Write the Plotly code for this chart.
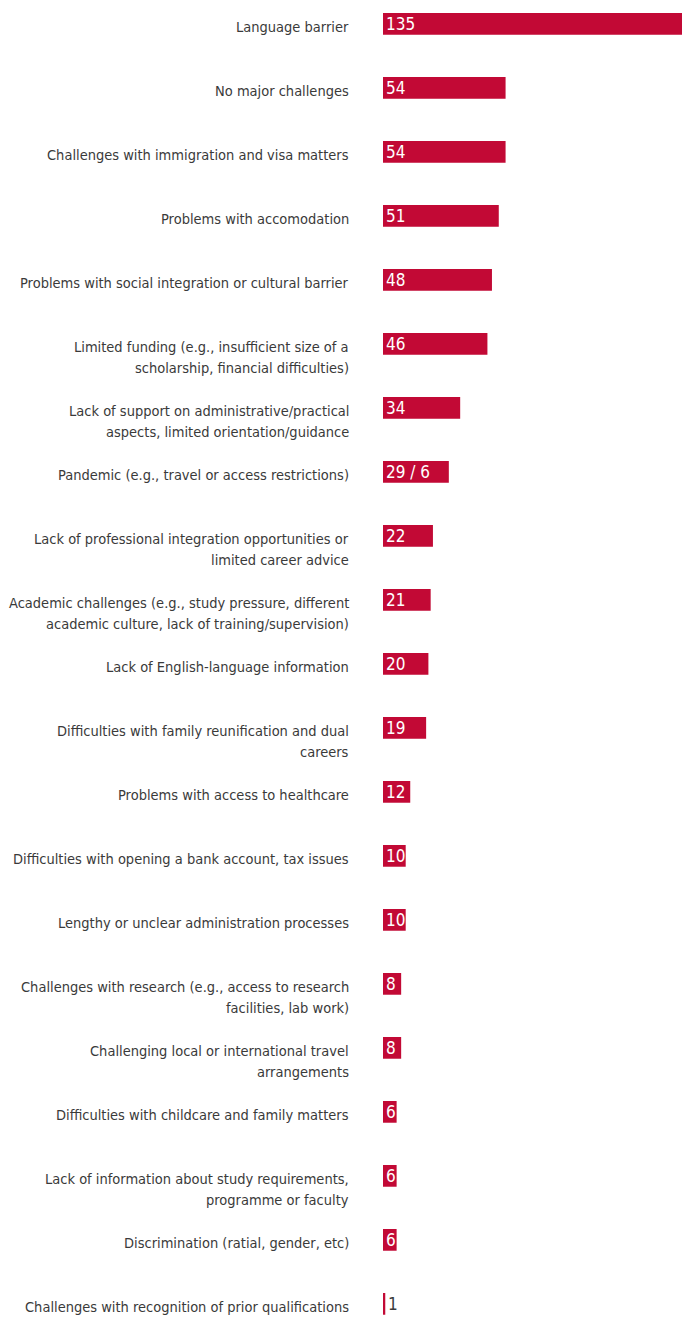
import plotly.graph_objects as go

# Reported challenges and number of respondents
categories = [
    "Language barrier",
    "No major challenges",
    "Challenges with immigration and visa matters",
    "Problems with accomodation",
    "Problems with social integration or cultural barrier",
    "Limited funding (e.g., insufficient size of a<br>scholarship, financial difficulties)",
    "Lack of support on administrative/practical<br>aspects, limited orientation/guidance",
    "Pandemic (e.g., travel or access restrictions)",
    "Lack of professional integration opportunities or<br>limited career advice",
    "Academic challenges (e.g., study pressure, different<br>academic culture, lack of training/supervision)",
    "Lack of English-language information",
    "Difficulties with family reunification and dual<br>careers",
    "Problems with access to healthcare",
    "Difficulties with opening a bank account, tax issues",
    "Lengthy or unclear administration processes",
    "Challenges with research (e.g., access to research<br>facilities, lab work)",
    "Challenging local or international travel<br>arrangements",
    "Difficulties with childcare and family matters",
    "Lack of information about study requirements,<br>programme or faculty",
    "Discrimination (ratial, gender, etc)",
    "Challenges with recognition of prior qualifications",
]
values = [135, 54, 54, 51, 48, 46, 34, 29, 22, 21, 20, 19, 12, 10, 10, 8, 8, 6, 6, 6, 1]
value_labels = ["135", "54", "54", "51", "48", "46", "34", "29 / 6", "22", "21", "20",
                "19", "12", "10", "10", "8", "8", "6", "6", "6", "1"]

BAR_COLOR = "#C20935"
TEXT_COLOR = "#3a3a3a"
FONT = "DejaVu Sans Condensed, DejaVu Sans, sans-serif"
LINE_GAP = 21  # px between wrapped label lines

W, H = 682, 1317
n = len(categories)
idx = list(range(n))

fig = go.Figure()
fig.add_trace(go.Bar(
    x=values, y=idx, orientation="h",
    marker=dict(color=BAR_COLOR, line=dict(width=0)),
    width=0.34, hoverinfo="skip",
))

annotations = []
for i, (lab, v, vl) in enumerate(zip(categories, values, value_labels)):
    # category label, right-aligned left of the bars, one annotation per line
    for k, line in enumerate(lab.split("<br>")):
        annotations.append(dict(
            x=351 / W, xref="paper", xanchor="right",
            y=i, yref="y", yanchor="top", yshift=6.5 - LINE_GAP * k,
            text=line, align="right", showarrow=False,
            font=dict(family=FONT, size=14.5, color=TEXT_COLOR),
        ))
    # value label at the start of each bar (outside when the bar is too short)
    inside = v >= 5
    annotations.append(dict(
        x=0 if inside else v, xref="x", xanchor="left",
        xshift=1,
        y=i, yref="y", yanchor="middle", yshift=-0.5,
        text=vl, showarrow=False,
        font=dict(family=FONT, size=17, color="white" if inside else TEXT_COLOR),
    ))

fig.update_layout(
    width=W, height=H,
    margin=dict(l=0, r=0, t=0, b=0),
    paper_bgcolor="white", plot_bgcolor="white",
    showlegend=False,
    xaxis=dict(domain=[383 / W, 1], range=[0, 299 / 2.27], visible=False, fixedrange=True),
    yaxis=dict(range=[(H - 23.85) / 64, -23.85 / 64], visible=False, fixedrange=True),
    annotations=annotations,
)

fig.write_html("out.html", config={"displayModeBar": False})
